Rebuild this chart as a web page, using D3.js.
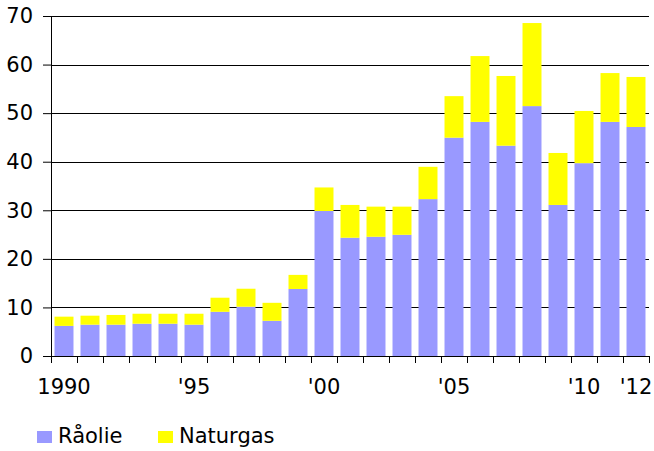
<!DOCTYPE html>
<html>
<head>
<meta charset="utf-8">
<script src="https://cdn.jsdelivr.net/npm/d3@7"></script>
<style>
  body { margin: 0; background: #fff; }
  svg { font-family: "DejaVu Sans", Verdana, sans-serif; }
</style>
</head>
<body>
<div id="chart"></div>
<script>
  var years = d3.range(1990, 2013);
  var raolie = [6.2, 6.45, 6.45, 6.65, 6.65, 6.45, 9.1, 10.15, 7.25, 13.8,
                29.85, 24.35, 24.55, 24.95, 32.3, 44.95, 48.2, 43.3, 51.45, 31.1,
                39.7, 48.2, 47.15];
  var naturgas = [1.9, 1.85, 2.0, 2.05, 2.05, 2.25, 2.9, 3.7, 3.7, 2.9,
                  4.85, 6.75, 6.2, 5.8, 6.65, 8.55, 13.55, 14.35, 17.1, 10.7,
                  10.75, 10.05, 10.3];
  var yTicks = [0, 10, 20, 30, 40, 50, 60, 70];
  var xLabels = { 1990: "1990", 1995: "'95", 2000: "'00", 2005: "'05", 2010: "'10", 2012: "'12" };
  var seriesNames = ["Råolie", "Naturgas"];
  var colors = ["#9999ff", "#ffff00"];

  var data = years.map(function(y, i) {
    return { year: y, raolie: raolie[i], naturgas: naturgas[i] };
  });

  var margin = { top: 16, right: 5, bottom: 95, left: 51 },
    width = 649 - margin.left,
    height = 356 - margin.top;

  var svg = d3.select("#chart")
    .append("svg")
    .attr("width", 654)
    .attr("height", 451);

  var g = svg.append("g")
    .attr("transform", "translate(" + margin.left + "," + margin.top + ")");

  var x = d3.scaleBand()
    .domain(years)
    .range([0, width])
    .paddingInner(0.27)
    .paddingOuter(0.135);

  var y = d3.scaleLinear()
    .domain([0, 70])
    .range([height, 0]);

  // gridlines
  g.selectAll(".grid")
    .data(yTicks.slice(1))
    .enter().append("line")
    .attr("x1", 0)
    .attr("x2", width)
    .attr("y1", function(d) { return Math.round(y(d)) + 0.5; })
    .attr("y2", function(d) { return Math.round(y(d)) + 0.5; })
    .attr("stroke", "#000")
    .attr("stroke-width", 1);

  var stack = d3.stack().keys(["raolie", "naturgas"]);
  var layers = stack(data);

  g.selectAll(".layer")
    .data(layers)
    .enter().append("g")
    .attr("fill", function(d, i) { return colors[i]; })
    .selectAll("rect")
    .data(function(d) { return d; })
    .enter().append("rect")
    .attr("x", function(d) { return x(d.data.year); })
    .attr("width", x.bandwidth())
    .attr("y", function(d) { return y(d[1]); })
    .attr("height", function(d) { return y(d[0]) - y(d[1]); });

  // Y axis
  var yAxis = g.append("g")
    .call(d3.axisLeft(y).tickValues(yTicks).tickSize(8).tickPadding(10));
  yAxis.selectAll("text").attr("font-size", "21px").attr("fill", "#000")
    .attr("font-family", "DejaVu Sans");
  yAxis.selectAll("line, path").attr("stroke", "#000");
  yAxis.select(".domain").attr("d", "M0.5," + height + "V0");

  // X axis: ticks at band boundaries
  var step = x.step();
  var bounds = d3.range(years.length + 1).map(function(i) { return i * step; });
  var xa = g.append("g").attr("transform", "translate(0," + height + ")");
  xa.append("line")
    .attr("x1", 0).attr("x2", width)
    .attr("y1", 0.5).attr("y2", 0.5)
    .attr("stroke", "#000");
  xa.selectAll(".tick")
    .data(bounds)
    .enter().append("line")
    .attr("x1", function(d) { return Math.round(d) + 0.5; })
    .attr("x2", function(d) { return Math.round(d) + 0.5; })
    .attr("y1", 0).attr("y2", 7)
    .attr("stroke", "#000");
  xa.selectAll(".lbl")
    .data(years.filter(function(d) { return xLabels[d]; }))
    .enter().append("text")
    .attr("x", function(d) { return x(d) + x.bandwidth() / 2; })
    .attr("y", 38)
    .attr("text-anchor", "middle")
    .attr("font-size", "21px")
    .attr("fill", "#000")
    .text(function(d) { return xLabels[d]; });

  // legend
  var legX = [37, 158];
  var leg = svg.selectAll(".leg")
    .data(seriesNames)
    .enter().append("g")
    .attr("transform", function(d, i) { return "translate(" + legX[i] + ",431)"; });
  leg.append("rect")
    .attr("width", 15).attr("height", 12)
    .attr("fill", function(d, i) { return colors[i]; });
  leg.append("text")
    .attr("x", 21).attr("y", 12)
    .attr("font-size", "21px")
    .attr("fill", "#000")
    .text(function(d) { return d; });
</script>
</body>
</html>
